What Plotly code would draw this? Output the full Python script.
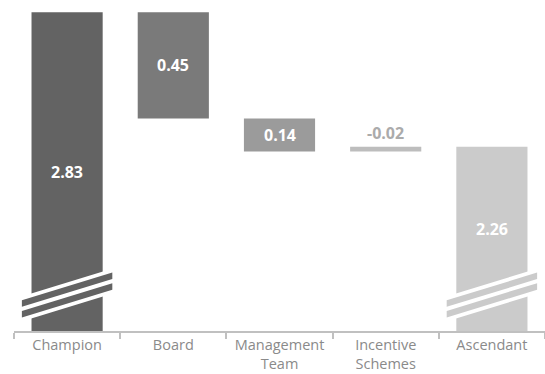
import plotly.graph_objects as go

# ---- data ----
categories = ["Champion", "Board", "Management<br>Team", "Incentive<br>Schemes", "Ascendant"]
values = [2.83, 0.45, 0.14, -0.02, 2.26]
value_labels = ["2.83", "0.45", "0.14", "-0.02", "2.26"]
kinds = ["total", "step", "step", "step", "total"]
colors = ["#636363", "#7a7a7a", "#9b9b9b", "#bdbdbd", "#cbcbcb"]

# axis window (broken axis: bars of totals start at the visible floor)
y_floor = 1.4792
y_top = 2.8817

# ---- compute bar bases/tops ----
bases, heights = [], []
running = None
for v, k in zip(values, kinds):
    if k == "total":
        bases.append(y_floor)
        heights.append(v - y_floor)
        running = v
    else:
        new = running - v
        lo, hi = min(new, running), max(new, running)
        bases.append(lo)
        heights.append(hi - lo)
        running = new

fig = go.Figure()
fig.add_trace(go.Bar(
    x=list(range(len(categories))),
    y=heights,
    base=bases,
    marker=dict(color=colors, line=dict(width=0)),
    width=0.67,
    hoverinfo="skip",
))

FONT = "Open Sans"

# value labels
annotations = []
for i, (lab, b, h, k) in enumerate(zip(value_labels, bases, heights, kinds)):
    if h * 236 < 15:
        annotations.append(dict(
            x=i, y=b + h, text=lab, showarrow=False, yanchor="bottom", yshift=1,
            font=dict(family=FONT, size=16, color="#ababab", weight=700),
        ))
    else:
        shift = 10 if (k == "total" and i > 0) else 0
        annotations.append(dict(
            x=i, y=b + h / 2, text=lab, showarrow=False, yshift=shift,
            font=dict(family=FONT, size=16, color="#ffffff", weight=700),
        ))

# axis-break marks on the total bars
shapes = []
slope = 0.1382       # data units per category unit
cy_off = 0.1525      # centre of break above floor
stripe_off = 0.0225
stripe_half = 0.0138
band_half = 0.0532
hx_stripe = 0.4256
hx_band = 0.345


def para(cx, cy, hx, half):
    y1 = cy - slope * hx
    y2 = cy + slope * hx
    return (f"M {cx-hx},{y1-half} L {cx+hx},{y2-half} "
            f"L {cx+hx},{y2+half} L {cx-hx},{y1+half} Z")


for i, k in enumerate(kinds):
    if k != "total":
        continue
    cy = y_floor + cy_off
    shapes.append(dict(type="path", path=para(i, cy, hx_band, band_half), xref="x", yref="y",
                       fillcolor="#ffffff", line=dict(width=0), layer="above"))
    for s in (+1, -1):
        shapes.append(dict(type="path", path=para(i, cy + s * stripe_off, hx_stripe, stripe_half),
                           xref="x", yref="y", fillcolor=colors[i], line=dict(width=0), layer="above"))

fig.update_layout(
    width=545, height=374,
    margin=dict(l=14, r=0, t=0, b=43, autoexpand=False),
    paper_bgcolor="white", plot_bgcolor="white",
    showlegend=False,
    annotations=annotations,
    shapes=shapes,
)
fig.update_xaxes(
    type="category",
    automargin=False,
    tickmode="array",
    tickvals=list(range(len(categories))),
    ticktext=categories,
    range=[-0.5, len(categories) - 0.5],
    showline=True, linecolor="#c0c0c0", linewidth=2,
    ticks="outside", tickson="boundaries", ticklen=6, tickwidth=2, tickcolor="#c0c0c0",
    ticklabelstandoff=0,
    showgrid=False, zeroline=False,
    tickfont=dict(family=FONT, size=14.5, color="#8a8a8a"),
)
fig.update_yaxes(range=[y_floor, y_top], visible=False, showgrid=False, zeroline=False,
                 automargin=False)

fig.write_html(
    "out.html",
    config={"displayModeBar": False, "staticPlot": True},
    post_script="document.body.style.margin='0';document.body.style.overflow='hidden';",
)
